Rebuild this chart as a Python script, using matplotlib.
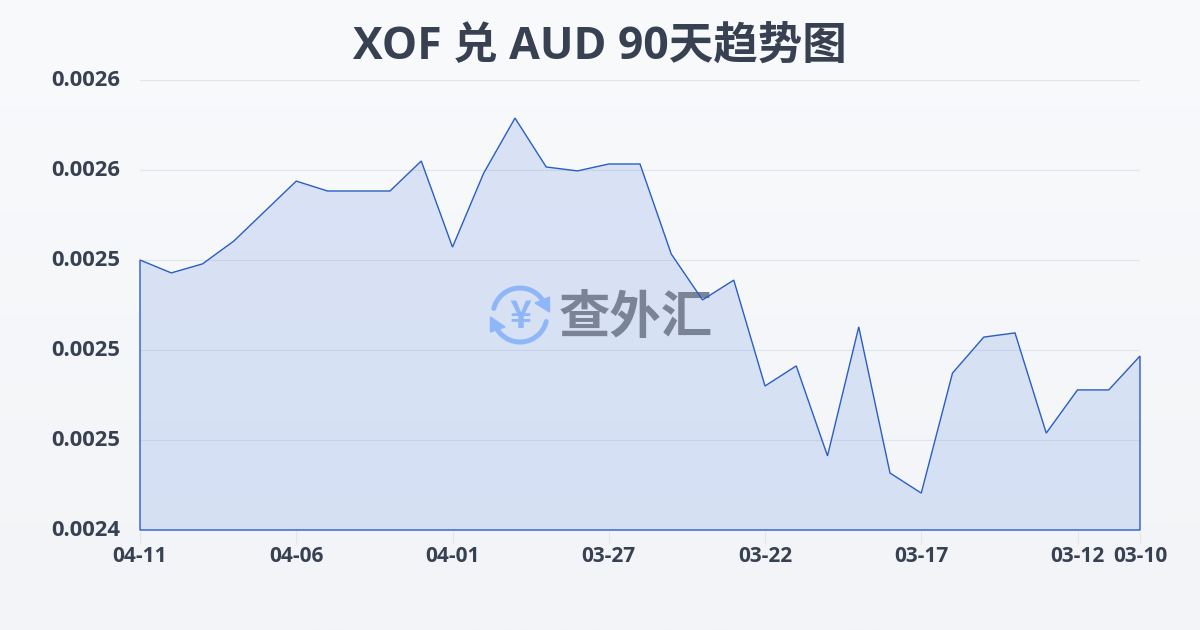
import numpy as np
import matplotlib
matplotlib.use('Agg')
import matplotlib.pyplot as plt
from matplotlib.ticker import FormatStrFormatter
from matplotlib.transforms import Affine2D

plt.rcParams['font.family'] = ['Open Sans', 'Noto Sans CJK SC', 'DejaVu Sans']

title = 'XOF 兑 AUD 90天趋势图'
rates = [0.002530, 0.0025257, 0.0025287, 0.0025363, 0.0025463, 0.0025563,
         0.002553, 0.002553, 0.002553, 0.002563, 0.0025343, 0.002559,
         0.0025773, 0.002561, 0.0025597, 0.002562, 0.002562, 0.002532,
         0.0025167, 0.0025233, 0.002488, 0.0024947, 0.0024647, 0.0025077,
         0.002459, 0.0024523, 0.0024923, 0.0025043, 0.0025057, 0.0024723,
         0.0024867, 0.0024867, 0.002498]
x_ticks = [0, 5, 10, 15, 20, 25, 30, 32]
x_labels = ['04-11', '04-06', '04-01', '03-27', '03-22', '03-17', '03-12', '03-10']
y_ticks = [0.00244, 0.00247, 0.00250, 0.00253, 0.00256, 0.00259]

text_color = '#374151'
line_color = '#2a5ec4'

fig = plt.figure(figsize=(12, 6.3), dpi=100)

# 背景渐变
bg = fig.add_axes([0, 0, 1, 1], zorder=0)
bg.axis('off')
top = np.array([248, 250, 252]) / 255
bottom = np.array([242, 244, 247]) / 255
grad = np.linspace(0, 1, 256)[:, None, None] * (bottom - top) + top
bg.imshow(grad, aspect='auto', extent=[0, 1, 0, 1])

ax = fig.add_axes([140 / 1200, 1 - 530 / 630, 1000 / 1200, 450 / 630], zorder=1)
ax.patch.set_alpha(0)
xs = np.arange(len(rates))
ax.set_xlim(0, len(rates) - 1)
ax.set_ylim(y_ticks[0], y_ticks[-1])

ax.fill_between(xs, rates, y_ticks[0], facecolor='#2a62dc', alpha=0.14, linewidth=0, zorder=2)

# 边框连同左右和底边一起画
ax.fill(np.r_[xs, xs[-1], xs[0]], np.r_[rates, y_ticks[0], y_ticks[0]],
        facecolor='none', edgecolor=line_color, linewidth=1.0, clip_on=False, zorder=5)

ax.set_yticks(y_ticks)
ax.yaxis.set_major_formatter(FormatStrFormatter('%.4f'))
ax.set_xticks(x_ticks)
ax.set_xticklabels(x_labels)
ax.grid(axis='y', color='#d9dee7', linewidth=0.8, alpha=0.7, zorder=1)
ax.set_axisbelow(True)
for s in ax.spines.values():
    s.set_visible(False)
ax.tick_params(axis='y', length=0, pad=14, labelsize=15.8, labelcolor=text_color)
ax.tick_params(axis='x', length=10, width=0.8, color='#e3e6ec', pad=1.5, labelsize=15, labelcolor=text_color)
for lab in ax.get_xticklabels() + ax.get_yticklabels():
    lab.set_fontweight('bold')
for lab in ax.get_yticklabels():
    lab.set_verticalalignment('center')

fig.text(0.5, 1 - 47 / 630, title, ha='center', va='center', fontsize=32,
         fontweight='bold', color=text_color)

# 水印，坐标按像素算
px = Affine2D().scale(1, -1).translate(0, 630)
logo_color = '#8fb7f8'
cx, cy, r = 520, 315, 27
for a0, a1 in [(166, 35), (-14, -145)]:
    ang = np.radians(np.linspace(a0, a1, 60))
    ax.plot(cx + r * np.cos(ang), cy - r * np.sin(ang), color=logo_color, linewidth=3.6,
            transform=px, clip_on=False, solid_capstyle='round', zorder=3)
for tri in [[(549.5, 297), (549.5, 312), (535, 303)], [(490.5, 317), (505, 327), (490.5, 332)]]:
    ax.fill(*zip(*tri), color=logo_color, transform=px, clip_on=False, zorder=3)
ax.text(cx, cy + 1, '¥', transform=px, ha='center', va='center', fontsize=27,
        fontweight='bold', color=logo_color, zorder=3, family=['Noto Sans CJK SC'])
ax.text(636, 318, '查外汇', transform=px, ha='center', va='center', fontsize=37,
        fontweight='bold', color='#7b8496', zorder=3, family=['Noto Sans CJK SC'])

fig.savefig('out.png', dpi=100)
